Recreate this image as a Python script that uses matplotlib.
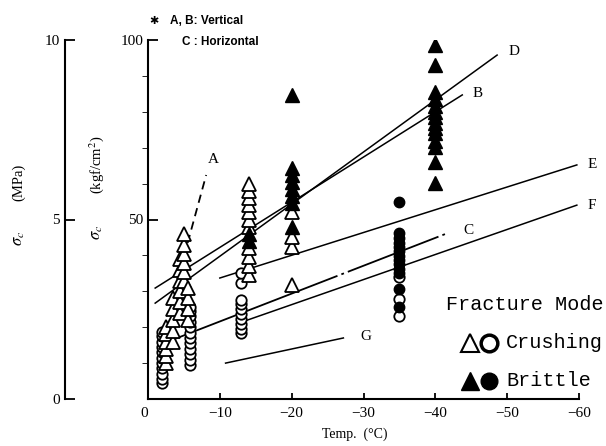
import matplotlib.pyplot as plt
from matplotlib.lines import Line2D

plt.rcParams['font.family'] = ['Liberation Serif', 'DejaVu Serif']
plt.rcParams['mathtext.fontset'] = 'stix'
plt.rcParams['lines.scale_dashes'] = False

# open triangles (crushing, vertical)
tri_open_T = [-2.5, -3.5, -4.5, -5.0, -5.5, -14, -20]
tri_open_v = [[10, 12, 14, 16, 18, 20],
              [16, 19, 22, 25, 28],
              [24, 27, 30, 33, 36, 39],
              [33, 35.5, 38, 40.5, 43, 46],
              [22, 25, 28, 31],
              [34.5, 37, 39.5, 42, 48, 50, 52, 54, 56, 58, 60],
              [31.8, 42.3, 45, 52]]
# filled triangles (brittle)
tri_fill_T = [-14, -20, -40]
tri_fill_v = [[44, 46],
              [47.9, 54.5, 56.5, 58.5, 60.5, 62.5, 64.3, 84.7],
              [60.2, 66, 70.2, 72, 74, 75.5, 77, 78.5, 80, 81.5, 83.5, 85.5, 93, 98.6]]
# open circles (crushing, horizontal)
circ_open_T = [-2, -5.8, -13, -35]
circ_open_v = [[4.5, 5.5, 7, 8.5, 10, 11.5, 13, 14.5, 16, 17.5, 18.7],
               [9.5, 11, 12.5, 14, 15.5, 17, 18.5, 20, 21.5, 23, 24.5, 25.6],
               [18.4, 19.6, 21, 22.4, 23.8, 25.2, 26.6, 27.6, 32.3, 35],
               [23.1, 27.9, 34]]
# filled circles (brittle)
circ_fill_T = [-35]
circ_fill_v = [[25.6, 30.6, 35.1, 36.3, 37.5, 38.7, 39.9, 41.1, 42.3, 43.5, 44.8, 46.2, 54.9]]

# fitted lines: (T ends, v ends, label pos)
lines = {
    'A': ([-4.5, -8.1], [36, 62.4], (-8.3, 66.6)),
    'B': ([-1, -43.75], [30.9, 84.7], (-45.2, 85.2)),
    'D': ([-1, -48.6], [26.7, 95.8], (-50.2, 96.7)),
    'C': ([-1.5, -41.7], [15.0, 46.2], (-43.9, 47)),
    'E': ([-10, -59.7], [33.7, 65.2], (-61.2, 65.2)),
    'F': ([-13, -59.7], [21.4, 54.0], (-61.2, 54.0)),
    'G': ([-10.8, -27.2], [10.0, 17.0], (-29.6, 17.3)),
}

W, H = 606, 446
fig = plt.figure(figsize=(W / 100, H / 100), dpi=100)
ax = fig.add_axes([148 / W, 1 - 399 / H, (579 - 148) / W, (399 - 40) / H])

for name, (tx, vy, (lx, ly)) in lines.items():
    if name == 'A':
        ax.plot(tx, vy, color='k', lw=1.3, ls=(0, (6, 4)))
    elif name == 'C':
        ax.plot(tx, vy, color='k', lw=1.3, ls=(0, (138, 3, 2, 3, 70, 3, 2, 100)))
    else:
        ax.plot(tx, vy, color='k', lw=1.1)
    ax.text(lx, ly, name, fontsize=11, ha='left', va='center')

for T, vals in zip(circ_open_T, circ_open_v):
    ax.plot([T] * len(vals), vals, 'o', ms=7.5, mfc='white', mec='k', mew=1.3)
for T, vals in zip(circ_fill_T, circ_fill_v):
    ax.plot([T] * len(vals), vals, 'o', ms=7.5, mfc='k', mec='k', mew=1.0)
for T, vals in zip(tri_open_T, tri_open_v):
    ax.plot([T] * len(vals), vals, '^', ms=9.5, mfc='white', mec='k', mew=1.3)
for T, vals in zip(tri_fill_T, tri_fill_v):
    ax.plot([T] * len(vals), vals, '^', ms=9.5, mfc='k', mec='k', mew=1.0)

ax.set_xlim(0, -60)
ax.set_ylim(0, 100)
ax.spines['top'].set_visible(False)
ax.spines['right'].set_visible(False)
for s in ['left', 'bottom']:
    ax.spines[s].set_linewidth(1.5)
ax.set_xticks([0, -10, -20, -30, -40, -50, -60])
ax.set_xticklabels(['0', '\u221210', '\u221220', '\u221230', '\u221240', '\u221250', '\u221260'])
ax.set_yticks([0, 50, 100])
ax.set_yticklabels(['', '50', '100'])
ax.set_yticks(range(0, 101, 10), minor=True)
ax.tick_params(axis='both', direction='in', labelsize=11, width=1.3)
ax.tick_params(axis='y', which='major', length=7)
ax.tick_params(axis='y', which='minor', length=4)
ax.tick_params(axis='x', length=4, pad=6)
ax.get_xticklabels()[0].set_horizontalalignment('right')

ax2 = ax.twinx()
ax2.set_ylim(0, 10)
ax2.yaxis.tick_left()
ax2.spines['right'].set_visible(False)
ax2.spines['top'].set_visible(False)
ax2.spines['bottom'].set_visible(False)
ax2.spines['left'].set_visible(True)
ax2.spines['left'].set_position(('outward', 83 * 0.72))
ax2.spines['left'].set_linewidth(1.5)
ax2.set_yticks([0, 5, 10])
ax2.tick_params(axis='y', direction='in', length=7, width=1.3, labelsize=11)


def fx(px):
    return px / W


def fy(py):
    return 1 - py / H


fig.text(fx(355), fy(434), 'Temp.  (\u00b0C)', fontsize=10, ha='center', va='center')
fig.text(fx(97), fy(232), r'$\sigma_c$', fontsize=12, rotation=90, ha='center', va='center')
fig.text(fx(97), fy(165), '(kgf/cm$^2$)', fontsize=10.5, rotation=90, ha='center', va='center')
fig.text(fx(19), fy(238), r'$\sigma_c$', fontsize=12, rotation=90, ha='center', va='center')
fig.text(fx(19), fy(182), '(MPa)', fontsize=10.5, rotation=90, ha='center', va='center')

fig.text(fx(154), fy(21), '\u2731', fontsize=8, ha='center', va='center',
         family=['DejaVu Sans'], fontweight='bold')
fig.text(fx(170), fy(21), 'A, B: Vertical', fontsize=8.5, ha='left', va='center',
         family=['Liberation Sans'], fontweight='bold')
fig.text(fx(182), fy(42), 'C : Horizontal', fontsize=8.5, ha='left', va='center',
         family=['Liberation Sans'], fontweight='bold')

# legend block
fig.text(fx(446), fy(305), 'Fracture Mode', fontsize=14.5, ha='left', va='center',
         family=['Liberation Mono'])
fig.text(fx(506), fy(343), 'Crushing', fontsize=14.5, ha='left', va='center',
         family=['Liberation Mono'])
fig.text(fx(506), fy(381), 'Brittle', fontsize=14.5, ha='left', va='center',
         family=['Liberation Mono'])
fig.add_artist(Line2D([fx(470)], [fy(343)], marker='^', ms=13, mfc='white', mec='k', mew=1.5,
                      transform=fig.transFigure))
fig.add_artist(Line2D([fx(489)], [fy(343)], marker='o', ms=12, mfc='white', mec='k', mew=2.5,
                      transform=fig.transFigure))
fig.add_artist(Line2D([fx(470)], [fy(381)], marker='^', ms=13, mfc='k', mec='k',
                      transform=fig.transFigure))
fig.add_artist(Line2D([fx(489)], [fy(381)], marker='o', ms=12, mfc='k', mec='k',
                      transform=fig.transFigure))

plt.savefig('out.png', dpi=100)
